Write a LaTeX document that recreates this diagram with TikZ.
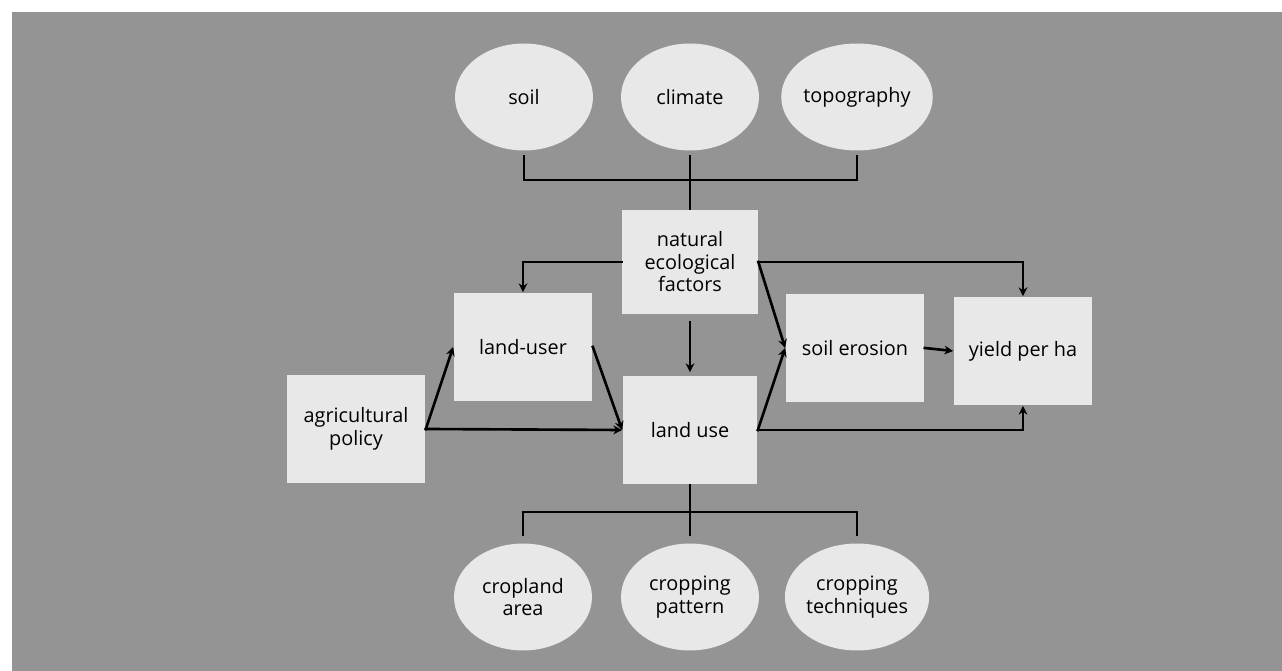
\documentclass[tikz,border=0pt]{standalone}
\usepackage{fontspec}
\setmainfont{Open Sans}
\usetikzlibrary{shapes.geometric,arrows.meta}

\definecolor{bggray}{gray}{0.58}
\definecolor{boxgray}{gray}{0.91}

\tikzset{
  factor/.style={ellipse, fill=boxgray, minimum width=2.76cm, minimum height=2.14cm,
    inner sep=0pt, align=center, font=\fontsize{11.3}{12.8}\selectfont},
  block/.style={rectangle, fill=boxgray, minimum width=2.78cm, minimum height=2.18cm,
    inner sep=0pt, align=center, font=\fontsize{11.3}{12.8}\selectfont},
  link/.style={line width=1.5pt, line cap=rect},
  arr/.style={link, -{Stealth[length=5pt,width=5pt]}}
}

\begin{document}
\begin{tikzpicture}[x=0.02cm, y=-0.02cm]
  \useasboundingbox (0,0) rectangle (1282,671);
  \fill[bggray] (12,12) rectangle (1282,671);

  % natural side
  \node[factor] (soil) at (524,97) {soil};
  \node[factor] (clim) at (690,97) {climate};
  \node[factor] (topo) at (857,97) {topography};

  \node[block, minimum width=2.72cm, minimum height=2.1cm] (nat) at (690,262) {natural\\ecological\\factors};
  \node[block] (luser) at (523,347) {land-user};
  \node[block] (agri) at (356,429) {agricultural\\policy};
  \node[block, minimum width=2.7cm] (luse) at (690,430) {land use};
  \node[block] (eros) at (855,348) {soil erosion};
  \node[block] (yield) at (1023,351) {yield per ha};

  % crops
  \node[factor] (crop) at (523,597) {cropland\\area};
  \node[factor] (patt) at (690,597) {cropping\\pattern};
  \node[factor] (tech) at (857,597) {cropping\\techniques};

  \coordinate (topbar) at (690,180);
  \coordinate (botbar) at (690,512);

  \draw[link, shorten <=0.1cm, shorten >=0.1cm] (soil.south) |- (topbar) -| (topo.south);
  \draw[link, shorten <=0.1cm] (clim.south) -- (nat.north);

  \draw[arr] (nat.west) -| (luser.north);
  \draw[arr, shorten <=0.14cm, shorten >=0.06cm] (nat.south) -- (luse.north);
  \draw[arr] (nat.east) -| (yield.north);
  \draw[arr] (nat.east) -- (eros.west);
  \draw[arr] (luse.east) -- (eros.west);
  \draw[arr] (luse.east) -| (yield.south);
  \draw[arr] (eros.east) -- (yield.west);

  \draw[arr] (agri.east) -- (luser.west);
  \draw[arr] (agri.east) -- (luse.west);
  \draw[arr] (luser.east) -- (luse.west);

  \draw[link, shorten >=0.16cm] (luse.south) -- (patt.north);
  \draw[link, shorten <=0.16cm, shorten >=0.16cm] (crop.north) |- (botbar) -| (tech.north);
\end{tikzpicture}
\end{document}
